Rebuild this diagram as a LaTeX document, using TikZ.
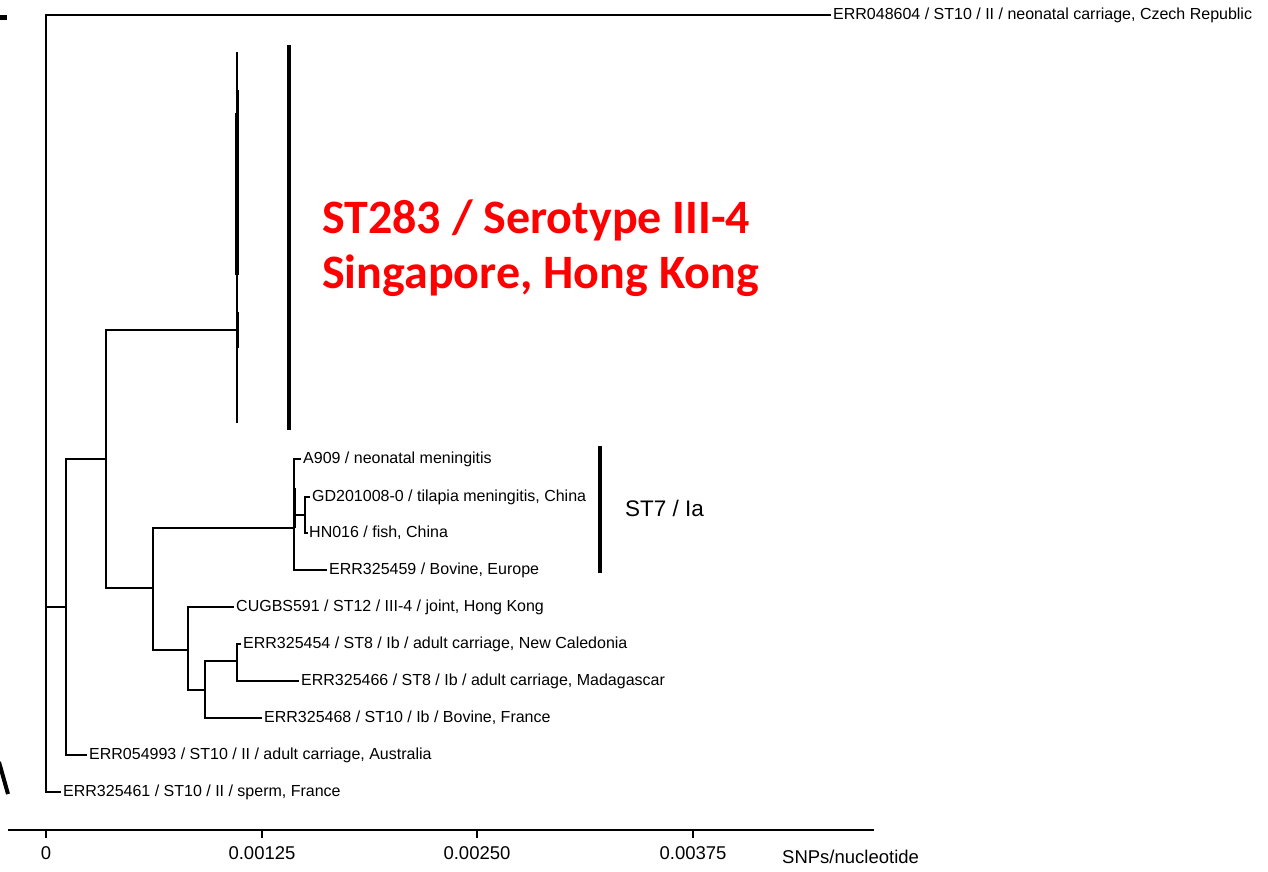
\documentclass[tikz,border=0pt]{standalone}
\usepackage{fontspec}
\setmainfont{Liberation Sans}
\newfontfamily\cladefont{Carlito}
\usepackage{tikz}
\usetikzlibrary{positioning}
\definecolor{cladered}{RGB}{255,0,0}
\tikzset{
    branch/.style={
        line width=1.6pt,
        black,
        line cap=rect
    },
    % thick bars beside the clades
    cladebar/.style={
        line width=3.6pt,
        black
    },
    leaflabel/.style={
        inner sep=0pt,
        anchor=west,
        font=\fontsize{16}{19}\selectfont
    },
    ticklabel/.style={
        inner sep=0pt,
        font=\fontsize{18.5}{21}\selectfont
    }
}
\begin{document}
\begin{tikzpicture}[x=1pt,y=-1pt]
   \useasboundingbox (0,0) rectangle (1268,872);
   % edge marks
   \fill[black] (0,15) rectangle (7,20);
   \draw[line width=4pt] (-1,762) -- (8,794);
   % internal nodes
   \coordinate (root) at (46,607);
   \coordinate (na) at (66,607);
   \coordinate (nb) at (106,459);
   \coordinate (nc) at (153,588);
   \coordinate (nd) at (294,528);
   \coordinate (nf) at (305,515);
   \coordinate (ne) at (188,650);
   \coordinate (ng) at (205,690);
   \coordinate (nh) at (237,661);
   \coordinate (st283) at (237,330);
   % tips
   \coordinate (t604) at (830,15);
   \coordinate (t461) at (60,792);
   \coordinate (t993) at (86,755);
   \coordinate (tA909) at (300,459);
   \coordinate (tGD) at (309,497);
   \coordinate (tHN) at (307,533);
   \coordinate (t459) at (326,570);
   \coordinate (tCUG) at (233,607);
   \coordinate (t454) at (240,644);
   \coordinate (t466) at (298,681);
   \coordinate (t468) at (261,718);
   % branches
   \draw[branch] (root) |- (t604);
   \draw[branch] (root) |- (na);
   \draw[branch] (root) |- (t461);
   \draw[branch] (na) |- (nb);
   \draw[branch] (na) |- (t993);
   \draw[branch] (nb) |- (st283);
   \draw[branch] (nb) |- (nc);
   \draw[branch] (nc) |- (nd);
   \draw[branch] (nc) |- (ne);
   \draw[branch] (nd) |- (tA909);
   \draw[branch] (nd) |- (nf);
   \draw[branch] (nd) |- (t459);
   \draw[branch] (nf) |- (tGD);
   \draw[branch] (nf) |- (tHN);
   \draw[branch] (ne) |- (tCUG);
   \draw[branch] (ne) |- (ng);
   \draw[branch] (ng) |- (nh);
   \draw[branch] (ng) |- (t468);
   \draw[branch] (nh) |- (t454);
   \draw[branch] (nh) |- (t466);
   \draw[line width=2.6pt] (295,488) -- (295,528);
   % collapsed ST283 clade
   \coordinate (st283top) at (237,52);
   \coordinate (st283bot) at (237,423);
   \draw[line width=1.3pt] (st283top) -- (st283bot);
   \draw[line width=1.3pt] (238,90) -- (238,113);
   \draw[line width=3.4pt] (237,113) -- (237,275);
   \draw[line width=3.4pt] (237.5,312) -- (237.5,348);
   \draw[line width=2.6pt] (237,382) -- (237,386);
   % leaf labels
   \node[leaflabel, right=3pt of t604] (l604) {ERR048604 / ST10 / II / neonatal carriage, Czech Republic};
   \node[leaflabel, right=3pt of tA909] (lA909) {A909 / neonatal meningitis};
   \node[leaflabel, right=3pt of tGD] (lGD) {GD201008-0 / tilapia meningitis, China};
   \node[leaflabel, right=2pt of tHN] (lHN) {HN016 / fish, China};
   \node[leaflabel, right=3pt of t459] (l459) {ERR325459 / Bovine, Europe};
   \node[leaflabel, right=3pt of tCUG] (lCUG) {CUGBS591 / ST12 / III-4 / joint, Hong Kong};
   \node[leaflabel, right=3pt of t454] (l454) {ERR325454 / ST8 / Ib / adult carriage, New Caledonia};
   \node[leaflabel, right=3pt of t466] (l466) {ERR325466 / ST8 / Ib / adult carriage, Madagascar};
   \node[leaflabel, right=3pt of t468] (l468) {ERR325468 / ST10 / Ib / Bovine, France};
   \node[leaflabel, right=3pt of t993] (l993) {ERR054993 / ST10 / II / adult carriage, Australia};
   \node[leaflabel, right=3pt of t461] (l461) {ERR325461 / ST10 / II / sperm, France};
   % clade bars and names
   \coordinate (bar283top) at (289,45);
   \coordinate (bar283bot) at (289,430);
   \draw[cladebar] (bar283top) -- (bar283bot);
   \node[anchor=base west, inner sep=0pt, text=cladered, font=\cladefont\bfseries\fontsize{48}{55}\selectfont] (name283a) at (322,233) {ST283 / Serotype III-4};
   \node[anchor=base west, inner sep=0pt, text=cladered, font=\cladefont\bfseries\fontsize{48}{55}\selectfont] (name283b) at (322,288) {Singapore, Hong Kong};
   \coordinate (bar7top) at (600,446);
   \coordinate (bar7bot) at (600,573);
   \draw[cladebar] (bar7top) -- (bar7bot);
   \node[anchor=west, inner sep=0pt, font=\fontsize{22.5}{26}\selectfont] (name7) at (625,508) {ST7 / Ia};
   % scale axis
   \coordinate (axisL) at (8,830);
   \coordinate (axisR) at (874,830);
   \draw[branch, line cap=butt] (axisL) -- (axisR);
   \foreach \x/\lab in {46/0, 262/0.00125, 477/0.00250, 693/0.00375}{
      \draw[branch, line cap=butt] (\x,830) -- (\x,838);
      \node[ticklabel] (tick\x) at (\x,853) {\lab};
   }
   \node[ticklabel, anchor=west] (axisname) at (782,857) {SNPs/nucleotide};
\end{tikzpicture}
\end{document}
